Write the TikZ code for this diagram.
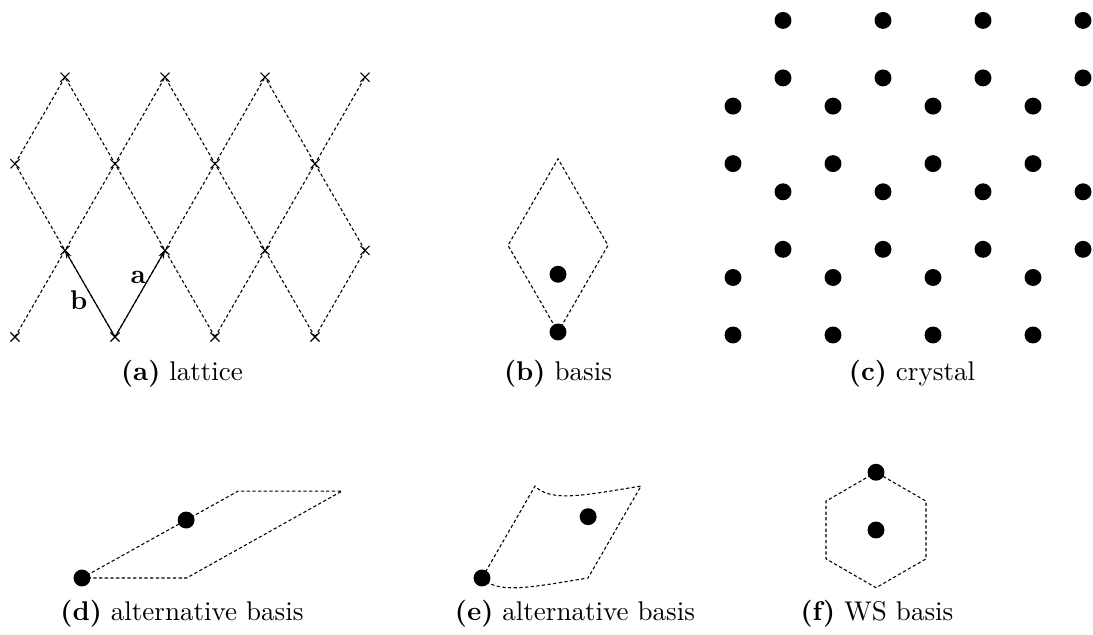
\documentclass[tikz,border=0pt]{standalone}
\usepackage{amsmath,amssymb,bm}
\usepackage{tikz}
\usetikzlibrary{arrows.meta, shapes.misc, calc}

\begin{document}
\begin{tikzpicture}[
    >={Stealth[length=3pt, width=2.2pt]},
    cell/.style={thin, dash pattern=on 1.2pt off 0.9pt},
    vec/.style={thin, ->},
    gitter/.style={cross out, draw, thin, minimum size=0.104cm, inner sep=0pt},
    atom/.style={fill=black},
    caption/.style={anchor=base}
]
\useasboundingbox (0,0) rectangle (14.209,8.242);

% --- PARAMETER ---
\def\ra{0.11}     % Radius der Atome
\def\L{1.3}       % Gitterkonstante
\def\h{1.1258}    % sqrt(3)/2 * L
\def\s{0.7506}    % L/sqrt(3), zweites Basisatom

% --- (a) GITTER ---
\begin{scope}[shift={(0.195,3.861)}]
    \foreach \j in {0,...,3} {
        \foreach \i in {0,...,3} {
            \pgfmathsetmacro{\xx}{\i*\L + mod(\j,2)*0.5*\L}
            \node[gitter] (p-\i-\j) at (\xx, \j*\h) {};
        }
    }
    % Linien entlang a und b
    \foreach \u/\v in {0-0/1-3, 1-0/2-3, 2-0/3-3, 3-0/3-1, 0-2/0-3,
                       1-0/0-2, 2-0/0-3, 3-0/1-3, 3-1/2-3}
        \draw[cell] (p-\u.center) -- (p-\v.center);

    \draw[vec] (p-1-0.center) -- (p-1-1.center);
    \draw[vec] (p-1-0.center) -- (p-0-1.center);
    \node (la) at (1.6,0.78) {$\mathbf{a}$};
    \node (lb) at (0.83,0.48) {$\mathbf{b}$};
\end{scope}
\node[caption] (capa) at (2.366,3.30) {\textbf{(a)} lattice};

% --- (b) BASIS ---
\begin{scope}[shift={(7.254,3.926)}]
    \coordinate (b0) at (0,0);
    \coordinate (b1) at ({\L/2},\h);
    \coordinate (b2) at (0,{2*\h});
    \coordinate (b3) at ({-\L/2},\h);
    \draw[cell] (b0) -- (b1) -- (b2) -- (b3) -- cycle;
    \fill[atom] (b0) circle (\ra);
    \fill[atom] (0,\s) circle (\ra);
\end{scope}
\node[caption] (capb) at (7.254,3.30) {\textbf{(b)} basis};

% --- (c) KRISTALL ---
\def\hc{1.114}
\def\sc{0.7475}
\begin{scope}[shift={(9.529,3.887)}]
    \foreach \j in {0,...,3} {
        \foreach \i in {0,...,3} {
            \pgfmathsetmacro{\xx}{\i*\L + mod(\j,2)*0.5*\L}
            \fill[atom] (\xx, \j*\hc) circle (\ra);
            \fill[atom] (\xx, \j*\hc+\sc) circle (\ra);
        }
    }
\end{scope}
\node[caption] (capc) at (11.856,3.30) {\textbf{(c)} crystal};

% --- (d) ALTERNATIVE BASIS ---
\begin{scope}[shift={(1.066,0.728)}]
    \coordinate (d0) at (0,0);
    \coordinate (d1) at (1.36,0);
    \coordinate (d2) at (3.38,1.13);
    \coordinate (d3) at (2.03,1.13);
    \draw[cell] (d0) -- (d1) -- (d2) -- (d3) -- cycle;
    \fill[atom] (d0) circle (\ra);
    \fill[atom] ($(d0)!0.6667!(d3)$) circle (\ra);
\end{scope}
\node[caption] (capd) at (2.366,0.17) {\textbf{(d)} alternative basis};

% --- (e) ALTERNATIVE BASIS, gekruemmt ---
\begin{scope}[shift={(6.266,0.728)}]
    \coordinate (e0) at (0,0);
    \coordinate (e1) at (1.378,0);
    \coordinate (e2) at (2.067,1.195);
    \coordinate (e3) at (0.689,1.195);
    \draw[cell] (e0) .. controls (0.207,-0.22) and (0.69,-0.11) .. (e1)
        -- (e2) .. controls ($(e3)+(0.69,-0.11)$) and ($(e3)+(0.207,-0.22)$) .. (e3)
        -- cycle;
    \fill[atom] (e0) circle (\ra);
    \fill[atom] (1.38,0.797) circle (\ra);
\end{scope}
\node[caption] (cape) at (7.475,0.17) {\textbf{(e)} alternative basis};

% --- (f) WS BASIS ---
\begin{scope}[shift={(11.388,1.352)}]
    \foreach \k in {0,...,5}
        \coordinate (f\k) at (90+60*\k:\s);
    \draw[cell] (f0) -- (f1) -- (f2) -- (f3) -- (f4) -- (f5) -- cycle;
    \fill[atom] (f0) circle (\ra);
    \fill[atom] (0,0) circle (\ra);
\end{scope}
\node[caption] (capf) at (11.401,0.17) {\textbf{(f)} WS basis};
\end{tikzpicture}
\end{document}
